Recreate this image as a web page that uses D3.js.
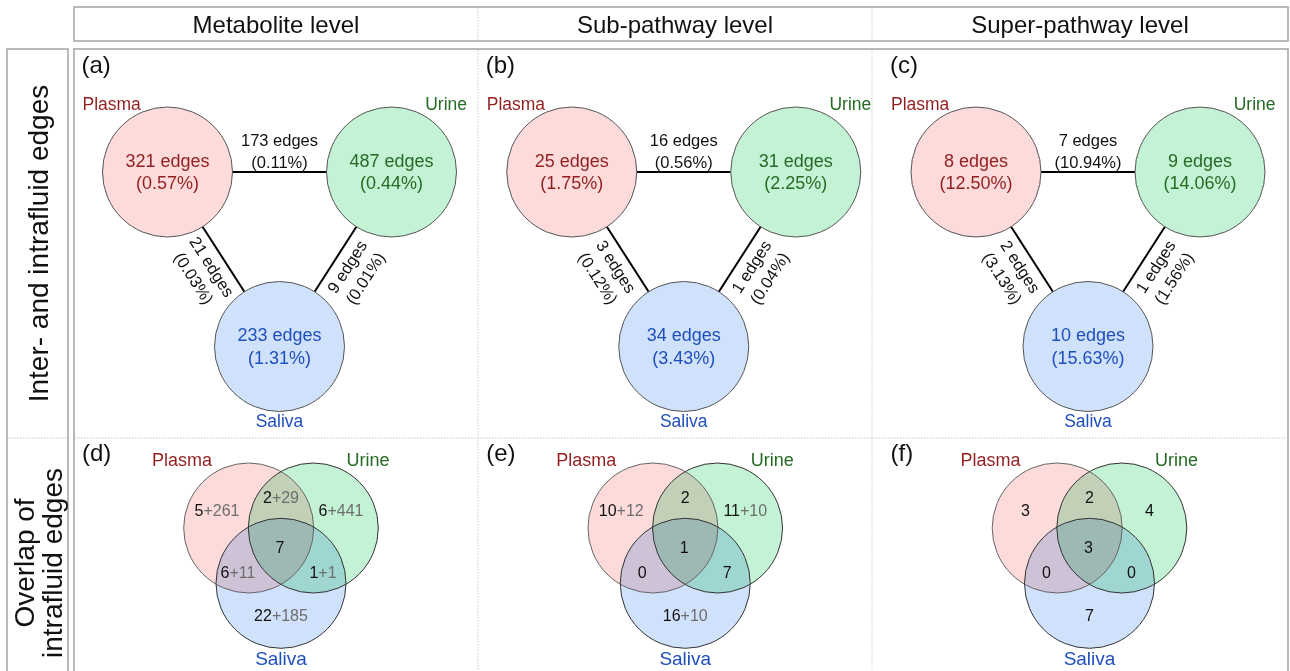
<!DOCTYPE html>
<html><head><meta charset="utf-8">
<script src="https://cdn.jsdelivr.net/npm/d3@7"></script>
<style>
body{margin:0;background:#fff}
svg{display:block;font-family:"Liberation Sans",Arial,Helvetica,sans-serif}
</style>
</head><body>
<svg id="chart" width="1290" height="671"></svg>
<script>
// ---------------- data ----------------
const levels = ["Metabolite level", "Sub-pathway level", "Super-pathway level"];
const rowLabels = [["Inter- and intrafluid edges"], ["Overlap of", "intrafluid edges"]];
const fluids = ["Plasma", "Urine", "Saliva"];
const topLetters = ["(a)", "(b)", "(c)"];
const bottomLetters = ["(d)", "(e)", "(f)"];
// intrafluid edges per level: Plasma, Urine, Saliva
const intraEdges = [[321, 487, 233], [25, 31, 34], [8, 9, 10]];
const intraPct = [["0.57%", "0.44%", "1.31%"], ["1.75%", "2.25%", "3.43%"], ["12.50%", "14.06%", "15.63%"]];
// interfluid edges per level: Plasma-Urine, Plasma-Saliva, Urine-Saliva
const interEdges = [[173, 21, 9], [16, 3, 1], [7, 2, 1]];
const interPct = [["0.11%", "0.03%", "0.01%"], ["0.56%", "0.12%", "0.04%"], ["10.94%", "3.13%", "1.56%"]];
// Venn region counts: P only, U only, S only, P∩U, P∩S, U∩S, P∩U∩S
const vennRegions = ["P", "U", "S", "PU", "PS", "US", "PUS"];
const vennMetabolite = [[5, 261], [6, 441], [22, 185], [2, 29], [6, 11], [1, 1], [7]];
const vennSubpathway = [[10, 12], [11, 10], [16, 10], [2], [0], [7], [1]];
const vennSuperpathway = [[3], [4], [7], [2], [0], [0], [3]];
const vennData = [vennMetabolite, vennSubpathway, vennSuperpathway];

// ---------------- style / layout ----------------
const fillCol = {Plasma: "#fddbdb", Urine: "#c4f2d5", Saliva: "#d0e2fb"};
const textCol = {Plasma: "#921f1f", Urine: "#256b25", Saliva: "#1f4fbd"};
const svg = d3.select("#chart");
svg.append("rect").attr("width", 1290).attr("height", 671).attr("fill", "#fff");

const colX = d3.scaleLinear().domain([0, 2]).range([279.5, 1088]);
const colEdges = [74, 478, 872, 1288];
const borderCol = "#a3a3a3";
const dotCol = "#c8c8c8";

// frames
svg.append("rect").attr("x", 74).attr("y", 7).attr("width", 1214).attr("height", 34)
  .attr("fill", "none").attr("stroke", borderCol).attr("stroke-width", 1.5);
svg.append("rect").attr("x", 74).attr("y", 49).attr("width", 1214).attr("height", 640)
  .attr("fill", "none").attr("stroke", borderCol).attr("stroke-width", 1.5);
svg.append("rect").attr("x", 7).attr("y", 49).attr("width", 61).attr("height", 640)
  .attr("fill", "none").attr("stroke", borderCol).attr("stroke-width", 1.5);
[478, 872].forEach(x => {
  svg.append("line").attr("x1", x).attr("x2", x).attr("y1", 8).attr("y2", 40)
    .attr("stroke", dotCol).attr("stroke-dasharray", "1.5,1.5");
  svg.append("line").attr("x1", x).attr("x2", x).attr("y1", 50).attr("y2", 671)
    .attr("stroke", dotCol).attr("stroke-dasharray", "1.5,1.5");
});
svg.append("line").attr("x1", 75).attr("x2", 1287).attr("y1", 438).attr("y2", 438)
  .attr("stroke", dotCol).attr("stroke-dasharray", "1.5,1.5");
svg.append("line").attr("x1", 8).attr("x2", 67).attr("y1", 438).attr("y2", 438)
  .attr("stroke", dotCol).attr("stroke-dasharray", "1.5,1.5");

// header texts
levels.forEach((t, i) => {
  svg.append("text").attr("x", (colEdges[i] + colEdges[i + 1]) / 2).attr("y", 33)
    .attr("text-anchor", "middle").attr("font-size", 24).attr("fill", "#111").text(t);
});

// row labels (rotated)
const rowCenters = [243.5, 563];
rowLabels.forEach((lines, r) => {
  const g = svg.append("g").attr("transform", `translate(38,${rowCenters[r]}) rotate(-90)`);
  const n = lines.length;
  lines.forEach((l, k) => {
    g.append("text").attr("x", 0).attr("y", 10 + (k - (n - 1) / 2) * 28.5)
      .attr("text-anchor", "middle").attr("font-size", 28).attr("fill", "#111").text(l);
  });
});

// ---------------- network panels ----------------
const R = 65;
const nodeDX = [-112, 112, 0];
const nodeY = [172, 172, 346.5];
const pairs = [[0, 1], [0, 2], [2, 1]];

levels.forEach((lev, i) => {
  const cx = colX(i);
  const g = svg.append("g");
  g.append("text").attr("x", cx - 198).attr("y", 73).attr("font-size", 24).attr("fill", "#111").text(topLetters[i]);
  const nodes = fluids.map((f, k) => ({f, x: cx + nodeDX[k], y: nodeY[k], e: intraEdges[i][k], p: intraPct[i][k]}));

  // edges
  pairs.forEach(([a, b], k) => {
    const A = nodes[a], B = nodes[b];
    const dx = B.x - A.x, dy = B.y - A.y, L = Math.hypot(dx, dy);
    const ux = dx / L, uy = dy / L;
    g.append("line").attr("x1", A.x + ux * R).attr("y1", A.y + uy * R)
      .attr("x2", B.x - ux * R).attr("y2", B.y - uy * R)
      .attr("stroke", "#000").attr("stroke-width", 2);
    const mx = (A.x + B.x) / 2, my = (A.y + B.y) / 2;
    const ang = Math.atan2(dy, dx) * 180 / Math.PI;
    const lg = g.append("g").attr("transform", `translate(${mx},${my}) rotate(${ang})`);
    const ys = k === 0 ? [-26, -4] : [19.5, 41];
    lg.append("text").attr("x", 0).attr("y", ys[0]).attr("text-anchor", "middle")
      .attr("font-size", 16.5).attr("fill", "#111").text(`${interEdges[i][k]} edges`);
    lg.append("text").attr("x", 0).attr("y", ys[1]).attr("text-anchor", "middle")
      .attr("font-size", 16.5).attr("fill", "#111").text(`(${interPct[i][k]})`);
  });

  // nodes
  nodes.forEach(n => {
    g.append("circle").attr("cx", n.x).attr("cy", n.y).attr("r", R)
      .attr("fill", fillCol[n.f]).attr("stroke", "#555").attr("stroke-width", 1);
    g.append("text").attr("x", n.x).attr("y", n.y - 5.5).attr("text-anchor", "middle")
      .attr("font-size", 18).attr("fill", textCol[n.f]).text(`${n.e} edges`);
    g.append("text").attr("x", n.x).attr("y", n.y + 17).attr("text-anchor", "middle")
      .attr("font-size", 18).attr("fill", textCol[n.f]).text(`(${n.p})`);
  });
  // fluid names
  g.append("text").attr("x", cx - 197).attr("y", 110).attr("font-size", 17.5)
    .attr("fill", textCol.Plasma).text(fluids[0]);
  g.append("text").attr("x", cx + 187.5).attr("y", 110).attr("text-anchor", "end").attr("font-size", 17.5)
    .attr("fill", textCol.Urine).text(fluids[1]);
  g.append("text").attr("x", cx).attr("y", 426.5).attr("text-anchor", "middle").attr("font-size", 17.5)
    .attr("fill", textCol.Saliva).text(fluids[2]);
});

// ---------------- Venn panels ----------------
const vR = 65;
const vDX = [-32.3, 32.3, 0];
const vY = [528, 528, 583.3];
const regionPos = {P: [-64, 516], U: [60, 516], S: [0, 620.7], PU: [0, 503], PS: [-43, 577.7], US: [42, 577.7], PUS: [-1, 552.7]};

vennData.forEach((vals, i) => {
  const cx = colX(i) + 1.5;
  const g = svg.append("g");
  g.append("text").attr("x", cx - 199).attr("y", 461).attr("font-size", 24).attr("fill", "#111").text(bottomLetters[i]);
  const cg = g.append("g").style("isolation", "isolate");
  fluids.forEach((f, k) => {
    cg.append("circle").attr("cx", cx + vDX[k]).attr("cy", vY[k]).attr("r", vR)
      .attr("fill", fillCol[f]).style("mix-blend-mode", "multiply");
  });
  fluids.forEach((f, k) => {
    g.append("circle").attr("cx", cx + vDX[k]).attr("cy", vY[k]).attr("r", vR)
      .attr("fill", "none").attr("stroke", k === 0 ? "#666" : "#333").attr("stroke-width", 1);
  });
  vennRegions.forEach((reg, k) => {
    const v = vals[k];
    const t = g.append("text").attr("x", cx + regionPos[reg][0]).attr("y", regionPos[reg][1])
      .attr("text-anchor", "middle").attr("font-size", 16);
    t.append("tspan").attr("fill", "#111").text(v[0]);
    if (v.length > 1) t.append("tspan").attr("fill", "#6e6e6e").text("+" + v[1]);
  });
  g.append("text").attr("x", cx - 99).attr("y", 466).attr("text-anchor", "middle").attr("font-size", 18)
    .attr("fill", textCol.Plasma).text(fluids[0]);
  g.append("text").attr("x", cx + 87).attr("y", 466).attr("text-anchor", "middle").attr("font-size", 18)
    .attr("fill", textCol.Urine).text(fluids[1]);
  g.append("text").attr("x", cx).attr("y", 665).attr("text-anchor", "middle").attr("font-size", 19)
    .attr("fill", textCol.Saliva).text(fluids[2]);
});
</script>
</body></html>
